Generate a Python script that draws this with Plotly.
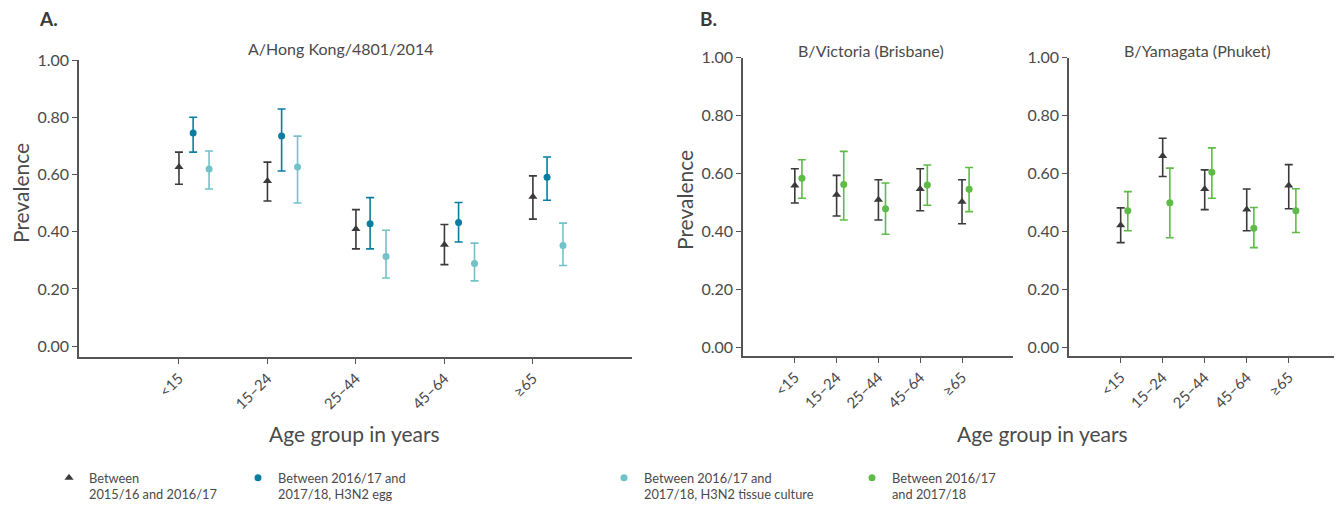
import plotly.graph_objects as go

# ---------------- data ----------------
age_groups = ["<15", "15–24", "25–44", "45–64", "≥65"]

# Panel A: A/Hong Kong/4801/2014
hk_prev_1516 = [0.626, 0.577, 0.409, 0.354, 0.522]
hk_lo_1516 = [0.566, 0.507, 0.340, 0.285, 0.444]
hk_hi_1516 = [0.678, 0.643, 0.477, 0.425, 0.595]

hk_prev_egg = [0.745, 0.734, 0.428, 0.432, 0.590]
hk_lo_egg = [0.678, 0.612, 0.340, 0.364, 0.510]
hk_hi_egg = [0.800, 0.829, 0.519, 0.502, 0.661]

hk_prev_tc = [0.619, 0.626, 0.313, 0.289, 0.352]
hk_lo_tc = [0.549, 0.500, 0.238, 0.228, 0.282]
hk_hi_tc = [0.682, 0.734, 0.405, 0.360, 0.430]

# Panel B: B/Victoria (Brisbane)
vic_prev_1516 = [0.559, 0.527, 0.510, 0.547, 0.503]
vic_lo_1516 = [0.499, 0.454, 0.440, 0.472, 0.427]
vic_hi_1516 = [0.617, 0.594, 0.579, 0.617, 0.579]

vic_prev_1718 = [0.584, 0.563, 0.479, 0.561, 0.546]
vic_lo_1718 = [0.515, 0.440, 0.391, 0.491, 0.469]
vic_hi_1718 = [0.648, 0.677, 0.568, 0.630, 0.621]

# Panel B: B/Yamagata (Phuket)
yam_prev_1516 = [0.422, 0.661, 0.547, 0.476, 0.559]
yam_lo_1516 = [0.362, 0.590, 0.476, 0.403, 0.479]
yam_hi_1516 = [0.482, 0.722, 0.613, 0.547, 0.631]

yam_prev_1718 = [0.472, 0.500, 0.605, 0.412, 0.472]
yam_lo_1718 = [0.403, 0.379, 0.515, 0.345, 0.397]
yam_hi_1718 = [0.538, 0.619, 0.689, 0.483, 0.548]

y_ticks = [0.0, 0.2, 0.4, 0.6, 0.8, 1.0]
y_tick_text = ["0.00", "0.20", "0.40", "0.60", "0.80", "1.00"]

name_1516 = "Between<br>2015/16 and 2016/17"
name_egg = "Between 2016/17 and<br>2017/18, H3N2 egg"
name_tc = "Between 2016/17 and<br>2017/18, H3N2 tissue culture"
name_1718 = "Between 2016/17<br>and 2017/18"

# ---------------- styles ----------------
C_BLACK = "#3a3a3a"
C_BLUE = "#0a7ea0"
C_TEAL = "#72c2c9"
C_GREEN = "#5dbb46"
TXT = "#4a4a4a"
FONT = "Lato"

fig = go.Figure()


def add_series(xaxis, yaxis, offset, prev, lo, hi, color, symbol, name, legend, show):
    idx = list(range(len(age_groups)))
    fig.add_trace(go.Scatter(
        x=[i + offset for i in idx],
        y=prev,
        mode="markers",
        name=name,
        legend=legend,
        showlegend=show,
        xaxis=xaxis, yaxis=yaxis,
        marker=dict(color=color, symbol=symbol, size=8 if symbol == "triangle-up" else 7),
        error_y=dict(
            type="data", symmetric=False,
            array=[h - p for h, p in zip(hi, prev)],
            arrayminus=[p - l for p, l in zip(prev, lo)],
            color=color, thickness=1.6, width=4,
        ),
        hoverinfo="x+y",
    ))


# Panel A
add_series("x", "y", 0.0, hk_prev_1516, hk_lo_1516, hk_hi_1516, C_BLACK, "triangle-up", name_1516, "legend", True)
add_series("x", "y", 0.16, hk_prev_egg, hk_lo_egg, hk_hi_egg, C_BLUE, "circle", name_egg, "legend2", True)
add_series("x", "y", 0.34, hk_prev_tc, hk_lo_tc, hk_hi_tc, C_TEAL, "circle", name_tc, "legend3", True)
# Victoria
add_series("x2", "y2", 0.0, vic_prev_1516, vic_lo_1516, vic_hi_1516, C_BLACK, "triangle-up", name_1516, "legend", False)
add_series("x2", "y2", 0.17, vic_prev_1718, vic_lo_1718, vic_hi_1718, C_GREEN, "circle", name_1718, "legend4", True)
# Yamagata
add_series("x3", "y3", 0.0, yam_prev_1516, yam_lo_1516, yam_hi_1516, C_BLACK, "triangle-up", name_1516, "legend", False)
add_series("x3", "y3", 0.17, yam_prev_1718, yam_lo_1718, yam_hi_1718, C_GREEN, "circle", name_1718, "legend4", False)

# page body has an 8px margin; figure sized so page fits the window
PAGE_W, PAGE_H, BODY = 1342, 509, 8
W, H = PAGE_W - BODY, PAGE_H - 2 * BODY


def px(x):
    return (x - BODY) / W


def py(y):
    return 1 - (y - BODY) / H


def xd(a, b):
    return [px(a), px(b)]


def yd(top, bottom):
    return [py(bottom), py(top)]


xaxis_common = dict(
    tickmode="array",
    tickvals=list(range(len(age_groups))),
    ticktext=age_groups,
    tickangle=-45,
    ticks="outside", ticklen=5, tickwidth=1.2, tickcolor="#555",
    showline=True, linecolor="#555", linewidth=1.5,
    showgrid=False, zeroline=False,
    tickfont=dict(family=FONT, size=15, color=TXT),
    fixedrange=True, automargin=False,
)
yaxis_common = dict(
    tickmode="array",
    tickvals=y_ticks,
    ticktext=y_tick_text,
    ticks="outside", ticklen=5, tickwidth=1.2, tickcolor="#555",
    showline=True, linecolor="#555", linewidth=1.5,
    showgrid=False, zeroline=False,
    tickfont=dict(family=FONT, size=16, color=TXT),
    fixedrange=True, automargin=False,
)

fig.update_layout(
    width=W, height=H,
    margin=dict(l=0, r=0, t=0, b=0, pad=0, autoexpand=False),
    paper_bgcolor="white", plot_bgcolor="white",
    font=dict(family=FONT, color=TXT),
    xaxis=dict(domain=xd(79, 632), range=[-1.13, 5.12], anchor="y", **xaxis_common),
    yaxis=dict(domain=yd(60, 357), range=[-0.038, 1.0], anchor="x", **yaxis_common),
    xaxis2=dict(domain=xd(743, 1013), range=[-1.24, 5.22], anchor="y2", **xaxis_common),
    yaxis2=dict(domain=yd(57.7, 356), range=[-0.029, 1.0], anchor="x2", **yaxis_common),
    xaxis3=dict(domain=xd(1069, 1340), range=[-1.23, 5.22], anchor="y3", **xaxis_common),
    yaxis3=dict(domain=yd(57.7, 356), range=[-0.029, 1.0], anchor="x3", **yaxis_common),
    showlegend=True,
)

leg_common = dict(
    orientation="v", xanchor="left", yanchor="top", y=py(463),
    font=dict(family=FONT, size=12.8, color=TXT),
    valign="top", itemwidth=30, bgcolor="rgba(0,0,0,0)", borderwidth=0,
    tracegroupgap=0,
)
fig.update_layout(
    legend=dict(x=px(49), **leg_common),
    legend2=dict(x=px(238), **leg_common),
    legend3=dict(x=px(604), **leg_common),
    legend4=dict(x=px(852), **leg_common),
)

ann = []
for t, x, y in [("<b>A.</b>", 37, 18), ("<b>B.</b>", 698, 18)]:
    ann.append(dict(text=t, x=px(x), y=py(y), xref="paper", yref="paper",
                    xanchor="left", yanchor="middle", showarrow=False,
                    font=dict(family=FONT, size=19, color="#3a3a3a")))

for t, x, y in [("A/Hong Kong/4801/2014", 340, 49),
                ("B/Victoria (Brisbane)", 871, 51),
                ("B/Yamagata (Phuket)", 1197, 51)]:
    ann.append(dict(text=t, x=px(x), y=py(y), xref="paper", yref="paper",
                    xanchor="center", yanchor="middle", showarrow=False,
                    font=dict(family=FONT, size=16, color=TXT)))

for t, x, y, ang in [("Age group in years", 354, 433, 0),
                     ("Age group in years", 1042, 433, 0),
                     ("Prevalence", 21, 193, -90),
                     ("Prevalence", 684, 200, -90)]:
    ann.append(dict(text=t, x=px(x), y=py(y), xref="paper", yref="paper",
                    xanchor="center", yanchor="middle", showarrow=False, textangle=ang,
                    font=dict(family=FONT, size=21, color=TXT)))

fig.update_layout(annotations=ann)

fig.write_html("out.html")
